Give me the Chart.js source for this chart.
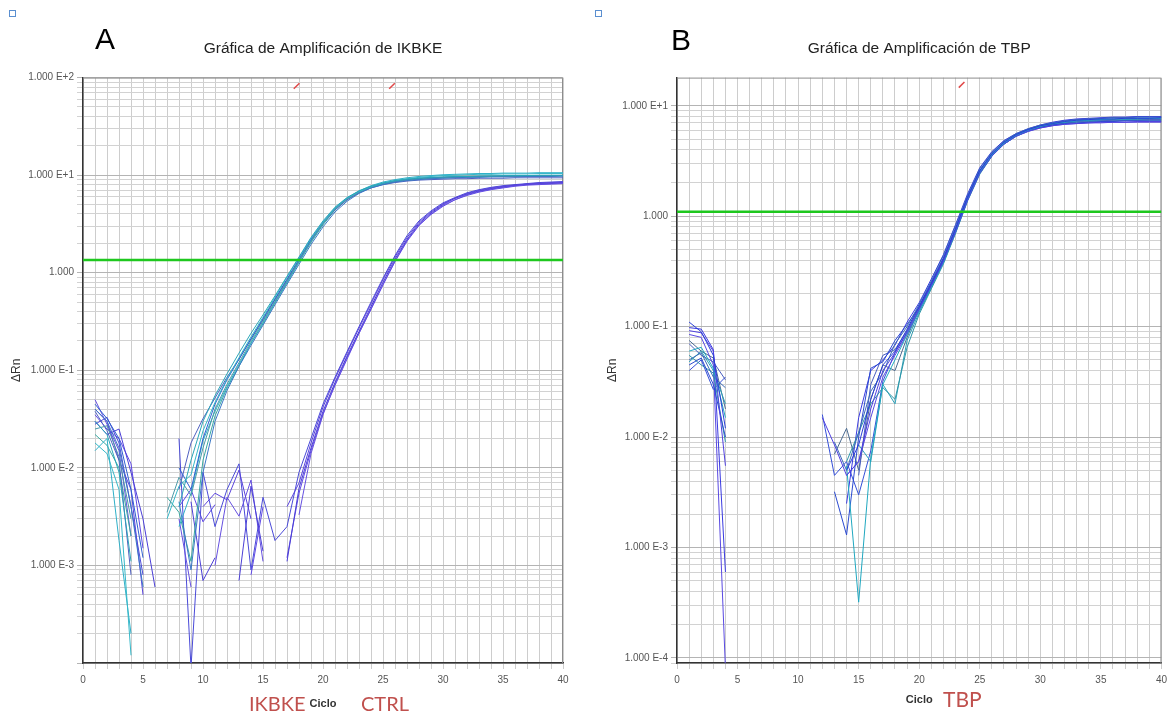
<!DOCTYPE html>
<html>
<head>
<meta charset="utf-8">
<script src="https://cdn.jsdelivr.net/npm/chart.js@4.4.1/dist/chart.umd.min.js"></script>
<style>
  body { margin:0; background:#fff; width:1172px; height:713px; position:relative; overflow:hidden; font-family:"Liberation Sans", Arial, sans-serif; }
  .box { position:absolute; top:0; height:713px; }
  .sq { position:absolute; width:5px; height:5px; border:1.5px solid #5b8fd0; background:#fff; }
  .panel { position:absolute; font-size:30px; line-height:30px; color:#000; }
  .tag { position:absolute; font-family:Lato, "Open Sans", sans-serif; color:#c0504d; line-height:1; }
</style>
</head>
<body>
<div class="box" style="left:0;width:580px"><canvas id="chartA" width="580" height="713"></canvas></div>
<div class="box" style="left:590px;width:582px"><canvas id="chartB" width="582" height="713"></canvas></div>

<div class="sq" style="left:9px;top:10px"></div>
<div class="sq" style="left:595px;top:10px"></div>
<div class="panel" style="left:95px;top:24px">A</div>
<div class="panel" style="left:671px;top:25px">B</div>
<div class="tag" style="left:249px;top:693px;font-size:20px">IKBKE</div>
<div class="tag" style="left:361px;top:693px;font-size:20px">CTRL</div>
<div class="tag" style="left:943px;top:688px;font-size:21px">TBP</div>

<script>
const N = null;
const cycles = [1,2,3,4,5,6,7,8,9,10,11,12,13,14,15,16,17,18,19,20,
                21,22,23,24,25,26,27,28,29,30,31,32,33,34,35,36,37,38,39,40];

// panel A, IKBKE wells (delta Rn per cycle, null = no value on log axis)
const ikbkeRuns = [
  [0.030,0.022,0.009,0.0011,N,N,N,0.004,0.012,0.030, 0.055,0.092,0.15,0.24,0.37,0.58,0.92,1.45,2.3,3.4, 4.7,5.9,6.9,7.7,8.3,8.8,9.1,9.3,9.5,9.6, 9.7,9.7,9.8,9.8,9.9,9.9,9.9,10.0,10.0,10.0],
  [0.018,0.014,0.006,0.00012,N,N,0.003,0.0065,0.0085,0.024, 0.047,0.082,0.135,0.22,0.35,0.56,0.90,1.42,2.25,3.3, 4.6,5.8,6.8,7.6,8.3,8.8,9.2,9.5,9.7,9.9, 10.0,10.1,10.2,10.2,10.3,10.3,10.3,10.4,10.4,10.4],
  [0.040,0.030,0.016,0.004,0.0006,N,N,0.0045,0.0009,0.009, 0.030,0.062,0.11,0.18,0.29,0.47,0.76,1.22,1.95,2.95, 4.2,5.4,6.5,7.4,8.0,8.5,8.8,9.0,9.2,9.3, 9.4,9.5,9.5,9.6,9.6,9.6,9.7,9.7,9.7,9.8],
  [0.025,0.027,0.013,0.003,N,N,0.0035,0.008,0.0052,0.016, 0.040,0.072,0.12,0.20,0.32,0.51,0.82,1.32,2.1,3.2, 4.5,5.7,6.7,7.5,8.1,8.6,8.9,9.1,9.3,9.4, 9.5,9.6,9.6,9.7,9.7,9.7,9.8,9.8,9.8,9.8],
  [0.045,0.032,0.020,0.006,0.0012,N,N,0.010,0.006,0.020, 0.045,0.080,0.13,0.21,0.34,0.54,0.86,1.38,2.2,3.3, 4.6,5.8,6.8,7.6,8.2,8.7,9.0,9.3,9.4,9.5, 9.6,9.6,9.7,9.7,9.7,9.8,9.8,9.8,9.8,9.9],
  [0.015,0.020,0.0018,0.0002,N,N,N,0.0025,0.0055,0.019, 0.038,0.068,0.115,0.19,0.31,0.50,0.80,1.30,2.1,3.2, 4.5,5.8,6.9,7.8,8.5,9.0,9.4,9.7,9.9,10.1, 10.2,10.3,10.4,10.4,10.5,10.5,10.5,10.6,10.6,10.6],
  [0.038,0.024,0.012,0.0008,N,N,N,0.006,0.018,0.032, 0.052,0.085,0.13,0.21,0.33,0.53,0.84,1.34,2.15,3.2, 4.4,5.6,6.6,7.4,8.0,8.4,8.7,8.9,9.0,9.1, 9.2,9.2,9.3,9.3,9.3,9.4,9.4,9.4,9.4,9.4],
  [0.022,0.017,0.010,0.002,N,N,0.005,0.0035,0.0011,0.012, 0.034,0.066,0.11,0.19,0.30,0.49,0.79,1.28,2.05,3.1, 4.4,5.6,6.6,7.5,8.1,8.6,9.0,9.2,9.4,9.5, 9.6,9.7,9.7,9.8,9.8,9.8,9.9,9.9,9.9,9.9]
];

// panel A, control wells
const ctrlRuns = [
  [0.040,0.030,0.012,0.006,0.0005,N,N,N,N,0.004, 0.0055,0.0047,0.0095,0.003,N,N,0.004,0.007,0.018,0.042, 0.082,0.15,0.27,0.48,0.85,1.45,2.3,3.3,4.2,5.1, 5.8,6.5,7.0,7.4,7.7,7.9,8.1,8.3,8.4,8.5],
  [0.030,0.022,0.025,0.009,0.003,0.0006,N,N,0.0045,0.0007, 0.0012,N,0.0007,0.0065,0.0014,N,0.0011,0.0062,0.016,0.038, 0.075,0.14,0.25,0.45,0.80,1.38,2.2,3.2,4.1,5.0, 5.8,6.4,6.9,7.3,7.6,7.9,8.1,8.2,8.3,8.4],
  [0.050,0.028,0.015,0.002,N,N,N,0.003,0.0006,N, 0.001,0.005,0.0032,0.0075,0.0011,N,N,0.0033,0.014,0.035, 0.072,0.135,0.24,0.43,0.76,1.32,2.15,3.1,4.0,4.9, 5.6,6.3,6.8,7.2,7.5,7.8,8.0,8.1,8.2,8.3],
  [0.028,0.033,0.018,0.004,0.0008,N,N,0.020,0.00009,0.009, 0.0025,0.006,0.011,0.0009,0.005,0.0018,0.0025,0.009,0.020,0.045, 0.085,0.155,0.28,0.50,0.88,1.5,2.4,3.4,4.3,5.2, 5.9,6.6,7.1,7.5,7.8,8.0,8.2,8.4,8.5,8.6],
  [0.035,0.025,0.020,0.011,0.0015,N,N,0.004,0.006,0.0028, 0.0042,N,N,0.0008,0.004,N,0.0012,0.0055,0.015,0.036, 0.070,0.13,0.24,0.42,0.75,1.30,2.1,3.05,3.95,4.8, 5.6,6.2,6.7,7.1,7.4,7.7,7.9,8.0,8.1,8.2]
];

// panel B, TBP wells
const tbpRuns = [
  [0.110,0.090,0.055,0.012,N,N,N,N,N,N, N,N,N,0.005,0.0085,0.022,0.045,0.060,0.095,0.155, 0.25,0.42,0.78,1.50,2.6,3.7,4.7,5.5,6.1,6.6, 6.9,7.2,7.4,7.5,7.6,7.6,7.7,7.7,7.7,7.8],
  [0.092,0.088,0.060,0.0055,N,N,N,N,N,N, N,0.0150,0.0085,0.0045,0.006,0.018,0.040,0.058,0.088,0.145, 0.235,0.39,0.72,1.40,2.45,3.5,4.5,5.3,5.9,6.3, 6.6,6.8,6.9,7.0,7.1,7.1,7.1,7.2,7.2,7.2],
  [0.060,0.065,0.042,0.015,N,N,N,N,N,N, N,N,N,0.0055,0.00032,0.0065,0.030,0.050,0.085,0.140, 0.23,0.38,0.72,1.42,2.5,3.6,4.6,5.4,6.0,6.5, 6.9,7.1,7.3,7.4,7.5,7.6,7.6,7.7,7.7,7.7],
  [0.050,0.058,0.035,0.028,N,N,N,N,N,N, N,N,0.0090,0.0050,0.0110,0.026,0.038,0.070,0.100,0.160, 0.26,0.44,0.82,1.55,2.7,3.8,4.8,5.6,6.2,6.7, 7.0,7.3,7.5,7.6,7.7,7.8,7.8,7.9,7.9,7.9],
  [0.045,0.052,0.030,0.010,N,N,N,N,N,N, N,N,0.0032,0.0013,0.0100,0.042,0.048,0.075,0.105,0.150, 0.24,0.40,0.74,1.45,2.55,3.65,4.6,5.4,6.0,6.4, 6.7,6.9,7.0,7.1,7.2,7.2,7.3,7.3,7.3,7.3],
  [0.070,0.055,0.048,0.033,N,N,N,N,N,N, N,N,N,N,0.0045,0.030,0.055,0.062,0.092,0.150, 0.245,0.41,0.76,1.48,2.55,3.6,4.6,5.4,6.0,6.5, 6.8,7.0,7.2,7.3,7.3,7.4,7.4,7.4,7.5,7.5],
  [0.055,0.045,0.038,0.009,N,N,N,N,N,N, N,N,N,0.0060,0.0110,0.020,0.028,0.022,0.065,0.130, 0.22,0.37,0.70,1.38,2.4,3.5,4.5,5.3,5.9,6.4, 6.7,7.0,7.1,7.2,7.3,7.3,7.4,7.4,7.4,7.4],
  [0.098,0.095,0.062,0.0006,N,N,N,N,N,N, N,N,N,0.0025,0.0150,0.040,0.050,0.068,0.110,0.165, 0.27,0.45,0.84,1.6,2.75,3.85,4.85,5.6,6.2,6.7, 7.1,7.4,7.6,7.7,7.8,7.9,7.9,8.0,8.0,8.0],
  [0.085,0.080,0.045,0.00008,N,N,N,N,N,N, N,N,N,0.0045,0.0060,0.015,0.035,0.055,0.085,0.140, 0.235,0.39,0.73,1.42,2.5,3.55,4.5,5.3,5.85,6.3, 6.6,6.8,6.9,7.0,7.0,7.1,7.1,7.1,7.1,7.1],
  [0.048,0.060,0.040,0.020,N,N,N,N,N,N, N,N,N,N,0.0085,0.0060,0.030,0.020,0.075,0.135, 0.225,0.38,0.71,1.40,2.45,3.5,4.5,5.35,5.95,6.4, 6.8,7.0,7.2,7.3,7.4,7.4,7.5,7.5,7.5,7.5],
  [0.040,0.050,0.027,0.035,N,N,N,N,N,N, N,0.0160,0.0045,0.0060,0.0030,0.0075,0.032,0.058,0.090,0.150, 0.25,0.41,0.77,1.5,2.6,3.7,4.7,5.5,6.1,6.6, 7.0,7.3,7.5,7.6,7.7,7.8,7.8,7.9,7.9,7.9],
  [0.075,0.060,0.052,0.018,N,N,N,N,N,N, N,N,0.0070,0.0120,0.0050,0.022,0.045,0.040,0.080,0.145, 0.24,0.40,0.75,1.46,2.55,3.6,4.6,5.4,6.0,6.5, 6.9,7.1,7.3,7.4,7.5,7.5,7.6,7.6,7.6,7.7]
];

const thresholdA = 1.35;
const thresholdB = 1.1;
const ctCyclesA = [17.8, 25.75];
const ctLevelA = 82;
const ctCyclesB = [23.5];
const ctLevelB = 15.5;

const yDecadesA = [-3, -2, -1, 0, 1, 2];
const yLabelsA = ['1.000 E-3', '1.000 E-2', '1.000 E-1', '1.000', '1.000 E+1', '1.000 E+2'];
const yDecadesB = [-4, -3, -2, -1, 0, 1];
const yLabelsB = ['1.000 E-4', '1.000 E-3', '1.000 E-2', '1.000 E-1', '1.000', '1.000 E+1'];

const ikbkeColors = ['#2aa6b8', '#36b8c8', '#3b78c6', '#4a9aa8', '#2f5fd0', '#2fb0c8', '#5060c0', '#3aa8a0'];
const ctrlColors = ['#5a44dc', '#4b3fd6', '#6650e0', '#4a4ad8', '#5f48e6'];
const tbpColors = ['#2a3fd8', '#5040e0', '#20a8c0', '#3c6cb8', '#2b4ad0', '#4a5fc0', '#2f96a8', '#3a3ae0', '#5a4ae2', '#2aa0b8', '#3550d8', '#4a6a90'];

Chart.defaults.font.family = '"Liberation Sans", Arial, sans-serif';

function runSets(runs, colors) {
  return runs.map(function(run, k) {
    return {
      data: run.map(function(v, i) { return {x: cycles[i], y: v}; }),
      borderColor: colors[k % colors.length],
      borderWidth: 1,
      pointRadius: 0,
      tension: 0,
      spanGaps: false
    };
  });
}

function logTicks(min, max) {
  var out = [];
  for (var e = Math.floor(Math.log10(min)); e <= Math.ceil(Math.log10(max)); e++) {
    for (var m = 1; m <= 9; m++) {
      var v = Number((m * Math.pow(10, e)).toPrecision(10));
      if (v >= min * 0.999999 && v <= max * 1.000001) out.push({value: v, major: m === 1, exp: e});
    }
  }
  return out;
}

// grey frame on top and right of the plot
const framePlugin = {
  id: 'frame',
  beforeDatasetsDraw: function(chart) {
    var a = chart.chartArea, c = chart.ctx;
    c.save();
    c.strokeStyle = '#8c8c8c';
    c.lineWidth = 1;
    c.beginPath();
    c.moveTo(a.left, a.top + 0.5);
    c.lineTo(a.right - 0.5, a.top + 0.5);
    c.lineTo(a.right - 0.5, a.bottom);
    c.stroke();
    c.restore();
  }
};

function makeChart(id, cfg) {
  var datasets = [
    {
      data: [{x: 0, y: cfg.threshold}, {x: 40, y: cfg.threshold}],
      borderColor: '#1ec81e', borderWidth: 2.5, pointRadius: 0
    },
    {
      data: cfg.ctCycles.map(function(c) { return {x: c, y: cfg.ctLevel}; }),
      showLine: false, pointStyle: 'line', pointRadius: 4, pointRotation: -45,
      pointBorderColor: '#e04848', pointBorderWidth: 1.5, borderColor: '#e04848'
    }
  ].concat(cfg.sets);

  return new Chart(document.getElementById(id), {
    type: 'line',
    data: { datasets: datasets },
    options: {
      responsive: false,
      animation: false,
      events: [],
      layout: { padding: { top: 30, right: cfg.padRight, bottom: 0, left: 0 } },
      plugins: {
        legend: { display: false },
        tooltip: { enabled: false },
        title: {
          display: true, text: cfg.title, fullSize: false,
          color: '#222', font: { size: 15.5, weight: 'normal' },
          padding: { top: 9, bottom: 20 }
        }
      },
      scales: {
        x: {
          type: 'linear', min: 0, max: 40,
          ticks: {
            stepSize: 1, autoSkip: false, maxRotation: 0, padding: 5,
            color: '#555', font: { size: 10 },
            callback: function(v) { return v % 5 === 0 ? String(v) : ''; }
          },
          grid: { color: '#cdcdcd', tickLength: 6 },
          border: { color: '#333', width: 1.5 },
          title: {
            display: true, text: 'Ciclo', color: '#333',
            font: { size: 11, weight: 'bold' },
            padding: { top: 0, bottom: cfg.cicloPad }
          },
          afterFit: function(s) { s.height = 50; }
        },
        y: {
          type: 'logarithmic', min: cfg.yMin, max: cfg.yMax,
          afterBuildTicks: function(s) { s.ticks = logTicks(cfg.yMin, cfg.yMax); },
          ticks: {
            autoSkip: false, padding: 3, color: '#555', font: { size: 10 },
            callback: function(v, i, ticks) {
              var t = ticks[i];
              if (!t.major) return '';
              var k = cfg.decades.indexOf(t.exp);
              return k < 0 ? '' : cfg.labels[k];
            }
          },
          grid: {
            color: function(ctx) { return ctx.tick && ctx.tick.major ? '#b4b4b4' : '#d2d2d2'; },
            tickLength: 6
          },
          border: { color: '#333', width: 1.5 },
          title: {
            display: true, text: 'ΔRn', color: '#333', font: { size: 12 },
            padding: { top: cfg.rnPad, bottom: 0 }
          },
          afterFit: function(s) { s.width = cfg.axisWidth; }
        }
      }
    },
    plugins: [framePlugin]
  });
}

makeChart('chartA', {
  title: 'Gráfica de Amplificación de IKBKE',
  sets: runSets(ikbkeRuns, ikbkeColors).concat(runSets(ctrlRuns, ctrlColors)),
  threshold: thresholdA, ctCycles: ctCyclesA, ctLevel: ctLevelA,
  yMin: 1e-4, yMax: 100, decades: yDecadesA, labels: yLabelsA,
  axisWidth: 83, padRight: 17, rnPad: 9, cicloPad: 2
});

makeChart('chartB', {
  title: 'Gráfica de Amplificación de TBP',
  sets: runSets(tbpRuns, tbpColors),
  threshold: thresholdB, ctCycles: ctCyclesB, ctLevel: ctLevelB,
  yMin: 9e-5, yMax: 18, decades: yDecadesB, labels: yLabelsB,
  axisWidth: 87, padRight: 9, rnPad: 15, cicloPad: 6
});
</script>
</body>
</html>
